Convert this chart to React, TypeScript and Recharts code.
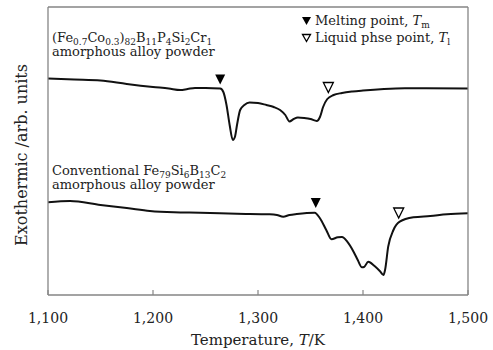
import React from 'react';
import {
  ComposedChart, Line, Scatter, XAxis, YAxis, Legend,
} from 'recharts';

// Temperatures (K) and DTA signal (arb. units) for the Fe-Co based powder
const TOP_T = [1100, 1125, 1150, 1175, 1200, 1215, 1226, 1233, 1240, 1250, 1264, 1267, 1270, 1273, 1276, 1278, 1280, 1283, 1287, 1292, 1300, 1308, 1315, 1321, 1326, 1330, 1334, 1338, 1344, 1350, 1356, 1359, 1362, 1366, 1372, 1380, 1390, 1400, 1420, 1440, 1460, 1500];
const TOP_V = [216.5, 215.5, 214.5, 211, 208, 206.5, 205, 206, 207, 207, 206.5, 203, 190, 170, 155, 158, 170, 185, 190, 192.5, 192, 190, 188, 185, 180, 173.5, 176, 177.5, 177, 176, 174, 178, 188, 196, 200, 202, 203.5, 204.5, 206, 206.7, 206.7, 206.5];

// Conventional Fe-Si-B-C powder
const BOT_T = [1100, 1121, 1150, 1175, 1197, 1220, 1245, 1280, 1311, 1318, 1324, 1330, 1337, 1354, 1359, 1365, 1370, 1376, 1380, 1385, 1391, 1395, 1399, 1401, 1405, 1411, 1416, 1419.5, 1421, 1424, 1429, 1435, 1448, 1464, 1480, 1500];
const BOT_V = [92.7, 94, 90, 87, 84, 82.7, 82.3, 81.3, 80.7, 80, 78.3, 80, 81, 82.3, 76.7, 65, 55.7, 57.7, 58, 53.3, 43.3, 35, 27.7, 28, 33.3, 29, 24, 20, 25, 48.3, 65, 73.3, 77.7, 79, 80.7, 81.7];

// Melting points (filled) and liquid phase points (open)
const MELT_T = [1264, 1355];
const MELT_V = [215.5, 92];
const LIQ_T = [1367, 1434];
const LIQ_V = [207.5, 82];

const X_TICKS = [1100, 1200, 1300, 1400, 1500];

const topData = TOP_T.map((t, i) => ({ t, v: TOP_V[i] }));
const botData = BOT_T.map((t, i) => ({ t, v: BOT_V[i] }));
const meltData = MELT_T.map((t, i) => ({ t, v: MELT_V[i] }));
const liqData = LIQ_T.map((t, i) => ({ t, v: LIQ_V[i] }));

const FONT = '"DejaVu Serif", "Liberation Serif", serif';
const FRAME = '#858585';

const triPath = (cx: number, cy: number) =>
  `M${cx - 5},${cy - 5} L${cx + 5},${cy - 5} L${cx},${cy + 5} Z`;

const FilledTri = (p: any) => <path d={triPath(p.cx, p.cy)} fill="#000" />;
const OpenTri = (p: any) => (
  <path d={triPath(p.cx, p.cy)} fill="#fff" stroke="#000" strokeWidth={1.3} />
);

const XTick = (p: any) => {
  const { x, y, payload } = p;
  return (
    <g>
      <line x1={x} y1={y} x2={x} y2={y - 5} stroke={FRAME} strokeWidth={1.2} />
      <text x={x} y={y + 28} textAnchor="middle" fontFamily={FONT} fontSize={14} fill="#222">
        {Number(payload.value).toLocaleString('en-US')}
      </text>
    </g>
  );
};

const sub: React.CSSProperties = { fontSize: 9, verticalAlign: '-2.5px', lineHeight: 0 };

const LegendBox = () => (
  <div style={{ fontFamily: FONT, fontSize: 13, lineHeight: '17px', color: '#222', whiteSpace: 'nowrap' }}>
    <div>
      <svg width={12} height={10} style={{ verticalAlign: '-1px', marginRight: 2 }}>
        <path d="M1,1 L10,1 L5.5,9 Z" fill="#000" />
      </svg>
      Melting point, <i>T</i><span style={sub}>m</span>
    </div>
    <div>
      <svg width={12} height={10} style={{ verticalAlign: '-1px', marginRight: 2 }}>
        <path d="M1.5,1.5 L9.5,1.5 L5.5,8.5 Z" fill="#fff" stroke="#000" strokeWidth={1.3} />
      </svg>
      Liquid phse point, <i>T</i><span style={sub}>l</span>
    </div>
  </div>
);

const annStyle: React.CSSProperties = {
  position: 'absolute', fontFamily: FONT, fontSize: 13, lineHeight: '15px', color: '#222', whiteSpace: 'nowrap',
};

export default function App() {
  return (
    <div style={{ position: 'absolute', left: 0, top: 0, width: 493, height: 350, background: '#fff' }}>
      <div style={{ position: 'absolute', left: 0, top: 0 }}>
        <ComposedChart width={493} height={350} margin={{ top: 6, right: 24, left: 47, bottom: 0 }}>
          <XAxis
            dataKey="t"
            type="number"
            domain={[1100, 1500]}
            ticks={X_TICKS}
            allowDataOverflow
            height={55}
            tickSize={0}
            tickMargin={0}
            tickLine={false}
            axisLine={{ stroke: FRAME, strokeWidth: 1.3 }}
            tick={<XTick />}
            label={{
              position: 'insideBottom',
              content: () => (
                <text x={258} y={345} textAnchor="middle" fontFamily={FONT} fontSize={15} fill="#222">
                  Temperature, <tspan fontStyle="italic">T</tspan>/K
                </text>
              ),
            }}
          />
          <XAxis
            xAxisId="top"
            orientation="top"
            dataKey="t"
            type="number"
            domain={[1100, 1500]}
            allowDataOverflow
            height={1}
            tick={false}
            tickLine={false}
            axisLine={{ stroke: FRAME, strokeWidth: 1.3 }}
          />
          <YAxis
            type="number"
            domain={[0, 288]}
            allowDataOverflow
            width={1}
            tick={false}
            tickLine={false}
            axisLine={{ stroke: FRAME, strokeWidth: 1.3 }}
            label={{
              position: 'insideLeft',
              content: () => (
                <text x={27} y={155} transform="rotate(-90, 27, 155)" textAnchor="middle" fontFamily={FONT} fontSize={16} fill="#222">
                  Exothermic /arb. units
                </text>
              ),
            }}
          />
          <YAxis
            yAxisId="right"
            orientation="right"
            type="number"
            domain={[0, 288]}
            allowDataOverflow
            width={1}
            tick={false}
            tickLine={false}
            axisLine={{ stroke: FRAME, strokeWidth: 1.3 }}
          />
          <Line data={topData} dataKey="v" type="monotone" stroke="#111" strokeWidth={2} dot={false} isAnimationActive={false} />
          <Line data={botData} dataKey="v" type="monotone" stroke="#111" strokeWidth={2} dot={false} isAnimationActive={false} />
          <Scatter data={meltData} dataKey="v" shape={FilledTri} isAnimationActive={false} />
          <Scatter data={liqData} dataKey="v" shape={OpenTri} isAnimationActive={false} />
          <Legend
            layout="vertical"
            align="center"
            verticalAlign="middle"
            wrapperStyle={{ left: 301, top: 12, width: 175, height: 36 }}
            content={() => <LegendBox />}
          />
        </ComposedChart>
      </div>
      <div style={{ ...annStyle, left: 52, top: 30 }}>
        (Fe<span style={sub}>0.7</span>Co<span style={sub}>0.3</span>)<span style={sub}>82</span>B<span style={sub}>11</span>P<span style={sub}>4</span>Si<span style={sub}>2</span>Cr<span style={sub}>1</span>
      </div>
      <div style={{ ...annStyle, left: 52, top: 44 }}>amorphous alloy powder</div>
      <div style={{ ...annStyle, left: 52, top: 163 }}>
        Conventional Fe<span style={sub}>79</span>Si<span style={sub}>6</span>B<span style={sub}>13</span>C<span style={sub}>2</span>
      </div>
      <div style={{ ...annStyle, left: 52, top: 177 }}>amorphous alloy powder</div>
    </div>
  );
}
